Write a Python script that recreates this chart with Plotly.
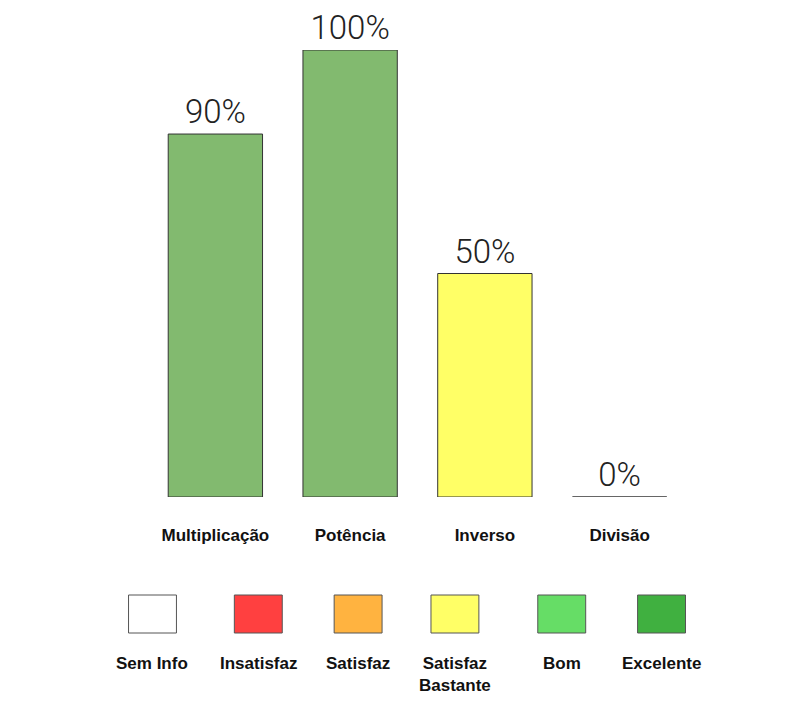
import plotly.graph_objects as go

categories = ["Multiplicação", "Potência", "Inverso", "Divisão"]
values = [81.2, 100, 50, 0]
bar_colors = ["#82BA6F", "#82BA6F", "#FFFF66", "#82BA6F"]
value_labels = ["90%", "100%", "50%", "0%"]

legend_names = ["Sem Info", "Insatisfaz", "Satisfaz", "Satisfaz<br>Bastante", "Bom", "Excelente"]
legend_colors = ["#FFFFFF", "#FF4040", "#FFB340", "#FFFF66", "#66DD66", "#40B040"]
legend_cx = [152, 258, 358, 455, 562, 662]

W, H = 800, 705
L, R, T, B = 147.5, 112.5, 50, 208
pw, ph = W - L - R, H - T - B

def px(x):
    return (x - L) / pw

def py(y):
    return (H - B - y) / ph

fig = go.Figure()
fig.add_trace(go.Bar(
    x=categories, y=values,
    marker=dict(color=bar_colors, line=dict(color="#333333", width=1)),
    width=0.7,
    text=value_labels, textposition="outside", cliponaxis=False,
    textfont=dict(family="Roboto", size=33, color="#222222", weight=300),
    hoverinfo="skip",
))

shapes = []
annotations = []
for name, col, cx in zip(legend_names, legend_colors, legend_cx):
    shapes.append(dict(type="rect", xref="paper", yref="paper",
                       x0=px(cx - 24), x1=px(cx + 24), y0=py(633), y1=py(595),
                       fillcolor=col, line=dict(color="#555555", width=1)))
    annotations.append(dict(xref="paper", yref="paper", x=px(cx), y=py(652),
                            text=name, showarrow=False, xanchor="center", yanchor="top",
                            font=dict(family="Liberation Sans", size=17, color="#111111", weight="bold")))

fig.update_layout(
    width=W, height=H,
    margin=dict(l=L, r=R, t=T, b=B, pad=0),
    paper_bgcolor="white", plot_bgcolor="white",
    showlegend=False,
    xaxis=dict(showgrid=False, zeroline=False, showline=False, ticks="",
               tickfont=dict(family="Liberation Sans", size=17, color="#111111", weight="bold"),
               ticklabelstandoff=26, range=[-0.5, 3.5]),
    yaxis=dict(range=[0, 100], visible=False, showgrid=False, zeroline=False),
    shapes=shapes, annotations=annotations,
)

fig.write_html("out.html")
